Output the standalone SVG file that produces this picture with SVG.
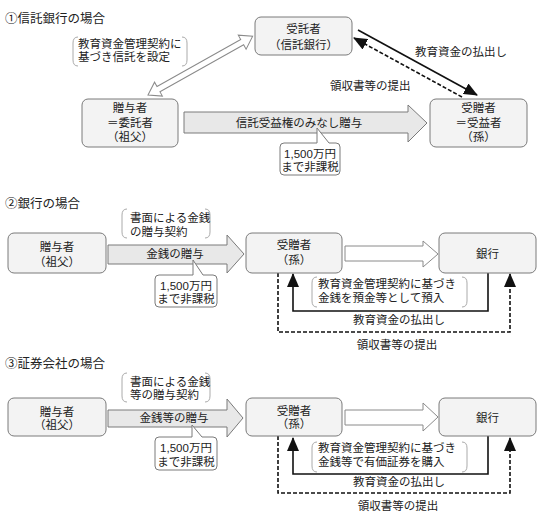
<svg xmlns="http://www.w3.org/2000/svg" width="550" height="524" viewBox="0 0 550 524">
<defs>
<style>
text{font-family:"Liberation Sans","Noto Sans CJK JP",sans-serif;font-size:11.5px;fill:#222}
.t{font-size:12.5px}
.c{text-anchor:middle}
.box{fill:#f3f3f3;stroke:#7a7a7a;stroke-width:1}
.garrow{fill:#e8e8e8;stroke:#7a7a7a;stroke-width:1}
.harrow{fill:#fff;stroke:#8a8a8a;stroke-width:1}
.call{fill:#fff;stroke:#7a7a7a;stroke-width:1}
.brk{fill:none;stroke:#aaa;stroke-width:1}
.sol{fill:none;stroke:#111;stroke-width:1.6}
.dsh{fill:none;stroke:#111;stroke-width:1.6;stroke-dasharray:4 2}
</style>
<marker id="ah" markerWidth="14" markerHeight="12" refX="13" refY="6" orient="auto" markerUnits="userSpaceOnUse">
<path d="M0,0 L14,6 L0,12 Z" fill="#111"/>
</marker>
</defs>

<!-- Section 1 -->
<text class="t" x="5" y="22.5">①信託銀行の場合</text>

<g id="connectors1">
<path class="brk" d="M78,37 Q73,37 73,43 L73,60 Q73,66 78,66"/>
<path class="brk" d="M182,37 Q187,37 187,43 L187,60 Q187,66 182,66"/>
<text x="78" y="48">教育資金管理契約に</text>
<text x="78" y="61">基づき信託を設定</text>
<g transform="translate(148,95) rotate(-29.3)">
<polygon class="harrow" points="0,0 12,-8 12,-3 108,-3 108,-8 120,0 108,8 108,3 12,3 12,8"/>
</g>
<polygon class="garrow" points="184,112 408,112 408,105 427,123 408,142 408,133 184,133"/>
<text class="c" x="299" y="127">信託受益権のみなし贈与</text>
<path class="call" d="M284,143 L317,143 L317,128 L329,143 L336,143 Q340,143 340,147 L340,171 Q340,175 336,175 L284,175 Q280,175 280,171 L280,147 Q280,143 284,143 Z"/>
<text class="c" x="310" y="157.5">1,500万円</text>
<text class="c" x="310" y="171">まで非課税</text>
<line class="sol" x1="358" y1="30" x2="477" y2="95" marker-end="url(#ah)"/>
<line class="dsh" x1="462" y1="97" x2="354" y2="38" marker-end="url(#ah)"/>
<text x="415" y="56">教育資金の払出し</text>
<text x="330" y="90">領収書等の提出</text>
</g>

<g id="trustee1">
<rect class="box" x="255" y="17" width="97" height="38" rx="6"/>
<text class="c" x="303.5" y="33">受託者</text>
<text class="c" x="303.5" y="49">（信託銀行）</text>
</g>
<g id="donor1">
<rect class="box" x="82" y="99" width="96" height="48" rx="6"/>
<text class="c" x="130" y="112">贈与者</text>
<text class="c" x="130" y="127">＝委託者</text>
<text class="c" x="130" y="141">（祖父）</text>
</g>
<g id="donee1">
<rect class="box" x="430" y="99" width="97" height="48" rx="6"/>
<text class="c" x="478.5" y="112">受贈者</text>
<text class="c" x="478.5" y="127">＝受益者</text>
<text class="c" x="478.5" y="141">（孫）</text>
</g>

<!-- Section 2 -->
<text class="t" x="5" y="207.5">②銀行の場合</text>

<g id="connectors2">
<path class="brk" d="M127,209 Q122,209 122,215 L122,232 Q122,238 127,238"/>
<path class="brk" d="M205,209 Q210,209 210,215 L210,232 Q210,238 205,238"/>
<text x="130" y="222">書面による金銭</text>
<text x="130" y="236">の贈与契約</text>
<polygon class="garrow" points="108,245 227,245 227,235 244,254 227,273 227,264 108,264"/>
<text class="c" x="175" y="258">金銭の贈与</text>
<path class="call" d="M159,275 L193,275 L193,260 L203,275 L213,275 Q217,275 217,279 L217,303 Q217,307 213,307 L159,307 Q155,307 155,303 L155,279 Q155,275 159,275 Z"/>
<text class="c" x="186" y="290">1,500万円</text>
<text class="c" x="186" y="303">まで非課税</text>
<polygon class="harrow" points="345,246 423,246 423,241 438,254 423,267 423,261 345,261"/>
<path class="brk" d="M317,277 Q312,277 312,283 L312,301 Q312,307 317,307"/>
<path class="brk" d="M462,277 Q467,277 467,283 L467,301 Q467,307 462,307"/>
<text x="318" y="288">教育資金管理契約に基づき</text>
<text x="318" y="302">金銭を預金等として預入</text>
<polyline class="sol" points="488,273 488,311 293,311 293,274" marker-end="url(#ah)"/>
<polyline class="dsh" points="278,273 278,332 510,332 510,274" marker-end="url(#ah)"/>
<text class="c" x="399" y="324">教育資金の払出し</text>
<text class="c" x="397" y="349">領収書等の提出</text>
</g>

<g id="donor2">
<rect class="box" x="8" y="233" width="98" height="40" rx="6"/>
<text class="c" x="57" y="251">贈与者</text>
<text class="c" x="57" y="266">（祖父）</text>
</g>
<g id="donee2">
<rect class="box" x="246" y="233" width="96" height="40" rx="6"/>
<text class="c" x="294" y="249">受贈者</text>
<text class="c" x="294" y="264">（孫）</text>
</g>
<g id="bank2">
<rect class="box" x="439" y="233" width="97" height="40" rx="6"/>
<text class="c" x="487.5" y="258">銀行</text>
</g>

<!-- Section 3 -->
<text class="t" x="5" y="367.5">③証券会社の場合</text>

<g id="connectors3">
<path class="brk" d="M127,373 Q122,373 122,379 L122,396 Q122,402 127,402"/>
<path class="brk" d="M205,373 Q210,373 210,379 L210,396 Q210,402 205,402"/>
<text x="130" y="386">書面による金銭</text>
<text x="130" y="399">等の贈与契約</text>
<polygon class="garrow" points="108,410 227,410 227,399 243,418 227,437 227,427 108,427"/>
<text class="c" x="174" y="422">金銭等の贈与</text>
<path class="call" d="M159,437 L192,437 L192,425 L202,437 L213,437 Q217,437 217,441 L217,466 Q217,470 213,470 L159,470 Q155,470 155,466 L155,441 Q155,437 159,437 Z"/>
<text class="c" x="186" y="452">1,500万円</text>
<text class="c" x="186" y="466">まで非課税</text>
<polygon class="harrow" points="345,410 423,410 423,403 438,417 423,431 423,425 345,425"/>
<path class="brk" d="M317,442 Q312,442 312,448 L312,466 Q312,472 317,472"/>
<path class="brk" d="M462,442 Q467,442 467,448 L467,466 Q467,472 462,472"/>
<text x="318" y="452">教育資金管理契約に基づき</text>
<text x="318" y="466">金銭等で有価証券を購入</text>
<polyline class="sol" points="488,436 488,474 293,474 293,438" marker-end="url(#ah)"/>
<polyline class="dsh" points="278,436 278,493 510,493 510,438" marker-end="url(#ah)"/>
<text class="c" x="399" y="486">教育資金の払出し</text>
<text class="c" x="398" y="510">領収書等の提出</text>
</g>

<g id="donor3">
<rect class="box" x="8" y="398" width="98" height="38" rx="6"/>
<text class="c" x="57" y="416">贈与者</text>
<text class="c" x="57" y="429">（祖父）</text>
</g>
<g id="donee3">
<rect class="box" x="246" y="398" width="96" height="38" rx="6"/>
<text class="c" x="294" y="415">受贈者</text>
<text class="c" x="294" y="428">（孫）</text>
</g>
<g id="bank3">
<rect class="box" x="439" y="398" width="97" height="38" rx="6"/>
<text class="c" x="487.5" y="422">銀行</text>
</g>
</svg>
